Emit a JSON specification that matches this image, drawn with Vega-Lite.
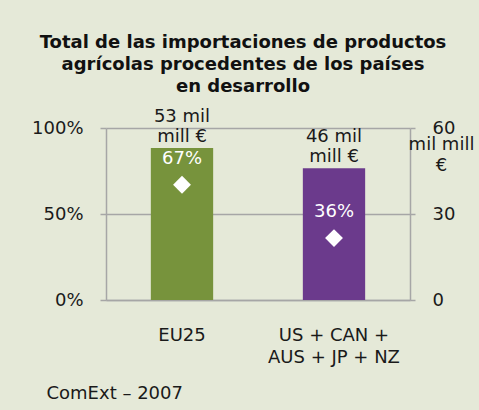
{
  "$schema": "https://vega.github.io/schema/vega-lite/v6.json",
  "width": 304,
  "height": 172,
  "autosize": "none",
  "padding": {"left": 106, "top": 128, "right": 69, "bottom": 110},
  "background": "#E5E9D8",
  "config": {
    "font": "DejaVu Sans",
    "view": {"stroke": null},
    "axis": {
      "labelFont": "DejaVu Sans",
      "labelFontSize": 18,
      "labelColor": "#1a1a1a",
      "titleFont": "DejaVu Sans",
      "titleFontSize": 18,
      "titleFontWeight": "normal",
      "titleColor": "#1a1a1a",
      "domainColor": "#A6A6A6",
      "domainWidth": 1.5,
      "tickColor": "#A6A6A6",
      "tickWidth": 1.5,
      "gridColor": "#A6A6A6",
      "gridWidth": 1.5
    }
  },
  "title": {
    "text": ["Total de las importaciones de productos", "agrícolas procedentes de los países", "en desarrollo"],
    "font": "DejaVu Sans",
    "fontSize": 18,
    "fontWeight": "bold",
    "lineHeight": 22,
    "anchor": "middle",
    "frame": "group",
    "dx": -15,
    "color": "#111111",
    "offset": 12
  },
  "data": {
    "values": [
      {"region": "EU25", "total": 53, "total_label": "53 mil\nmill €", "pct": 67, "pct_label": "67%"},
      {"region": "US + CAN + AUS +  JP + NZ", "total": 46, "total_label": "46 mil\nmill €", "pct": 36, "pct_label": "36%"}
    ]
  },
  "encoding": {
    "x": {
      "field": "region",
      "type": "nominal",
      "sort": null,
      "scale": {"paddingInner": 0, "paddingOuter": 0},
      "axis": {
        "labelAngle": 0,
        "labelExpr": "datum.value == 'EU25' ? 'EU25' : ['US + CAN +', 'AUS +  JP + NZ']",
        "labelLineHeight": 22,
        "labelBaseline": "top",
        "labelPadding": 26,
        "ticks": false,
        "title": "ComExt – 2007",
        "titleAngle": 0,
        "titleAlign": "left",
        "titleBaseline": "middle",
        "titleX": -60,
        "titleY": 93
      }
    }
  },
  "layer": [
    {
      "encoding": {
        "y": {
          "field": "total",
          "type": "quantitative",
          "scale": {"domain": [0, 60]},
          "axis": {
            "orient": "right",
            "values": [0, 30, 60],
            "grid": false,
            "tickSize": 5,
            "labelPadding": 17,
            "labelAlign": "left",
            "title": ["mil mill", "€"],
            "titleAngle": 0,
            "titleAlign": "center",
            "titleBaseline": "middle",
            "titleLineHeight": 21,
            "titleX": 31,
            "titleY": 16
          }
        }
      },
      "layer": [
        {
          "mark": {"type": "bar", "width": {"band": 0.41}},
          "encoding": {
            "color": {
              "field": "region",
              "type": "nominal",
              "sort": null,
              "scale": {"range": ["#77933C", "#6B3A8C"]},
              "legend": null
            }
          }
        },
        {
          "mark": {"type": "text", "lineBreak": "\n", "baseline": "bottom", "dy": -22, "fontSize": 18, "lineHeight": 20, "color": "#1a1a1a"},
          "encoding": {"text": {"field": "total_label"}}
        }
      ]
    },
    {
      "encoding": {
        "y": {
          "field": "pct",
          "type": "quantitative",
          "scale": {"domain": [0, 100]},
          "axis": {
            "orient": "left",
            "values": [0, 50, 100],
            "labelExpr": "datum.value + '%'",
            "grid": true,
            "tickSize": 6,
            "labelPadding": 17,
            "title": null
          }
        }
      },
      "layer": [
        {"mark": {"type": "point", "shape": "diamond", "filled": true, "color": "white", "opacity": 1, "size": 320}},
        {
          "mark": {"type": "text", "color": "white", "fontSize": 18, "dy": -26, "baseline": "middle"},
          "encoding": {"text": {"field": "pct_label"}}
        }
      ]
    }
  ],
  "resolve": {"scale": {"y": "independent"}}
}
